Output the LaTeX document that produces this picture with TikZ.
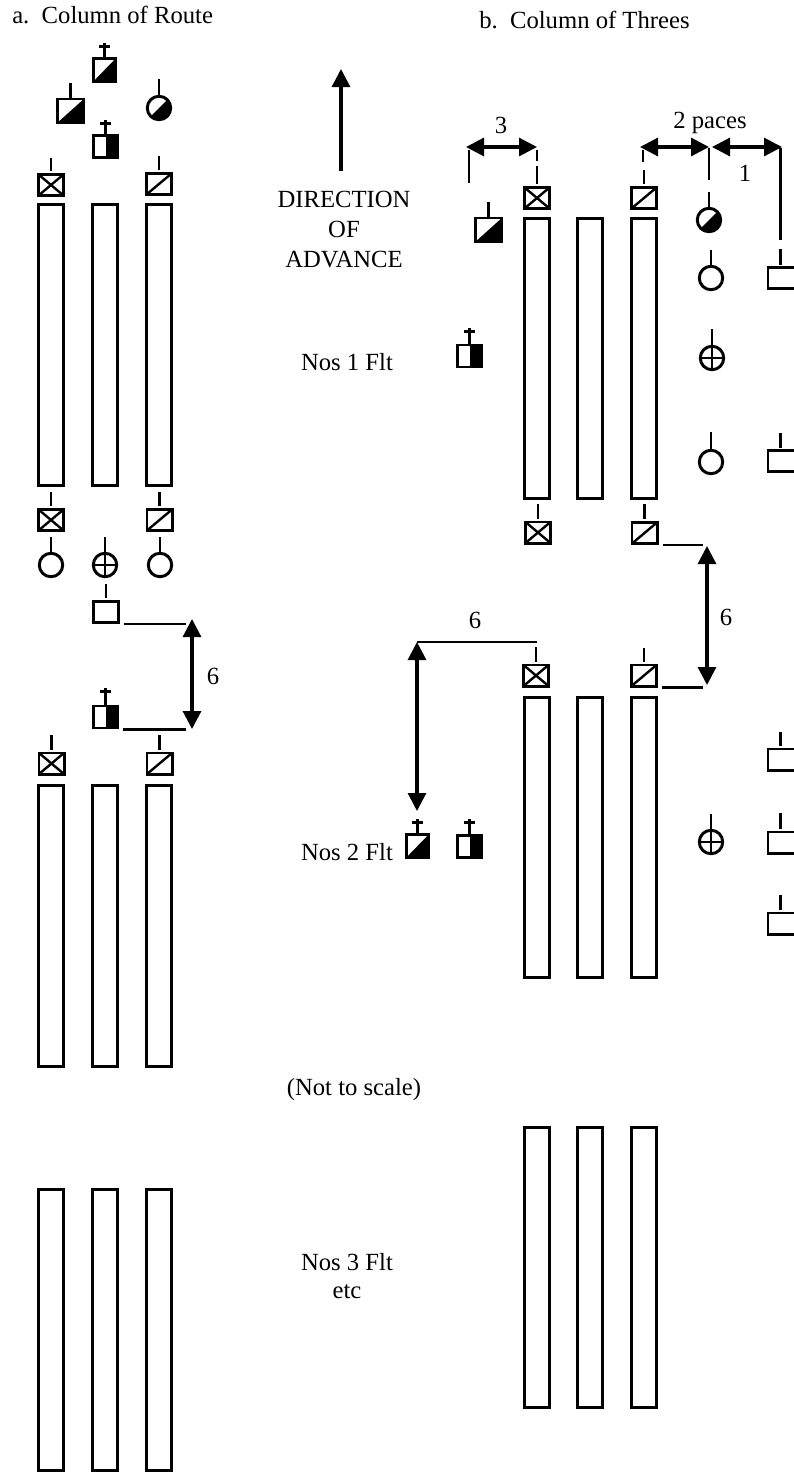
\documentclass[tikz,border=0pt]{standalone}
\usepackage{fontspec}
\setmainfont{Liberation Serif}
\usepackage{xcolor}
\usetikzlibrary{arrows.meta}
\begin{document}
\begin{tikzpicture}[
  x=0.75pt, y=-0.75pt,
  >={Triangle[length=13.5pt,width=13.5pt]},
  lab/.style={inner sep=0, font=\fontsize{18.5}{22}\selectfont, anchor=base},
  symb/.style={draw, line width=2.2pt, inner sep=0, fill=white},
  vehicle/.style={symb, minimum width=19pt, minimum height=210.5pt},
  plainbox/.style={symb, minimum width=18.8pt, minimum height=15.8pt},
  cutbox/.style={symb, minimum width=22.5pt, minimum height=15.8pt},
  xbox/.style={plainbox, path picture={
      \draw[line width=1.8pt] (path picture bounding box.south west) -- (path picture bounding box.north east)
        (path picture bounding box.north west) -- (path picture bounding box.south east);}},
  slashbox/.style={plainbox, path picture={
      \draw[line width=1.8pt] (path picture bounding box.south west) -- (path picture bounding box.north east);}},
  halfbox/.style={symb, minimum width=18pt, minimum height=16.5pt, path picture={
      \fill[black] (path picture bounding box.south) rectangle (path picture bounding box.north east);}},
  diagfill/.style={path picture={
      \fill[black] (path picture bounding box.south west) -- (path picture bounding box.north east)
        -- (path picture bounding box.south east) -- cycle;}},
  crossdiag/.style={symb, diagfill, minimum width=16.5pt, minimum height=17pt},
  bigdiag/.style={symb, diagfill, minimum width=20pt, minimum height=18pt},
  ring/.style={symb, circle, minimum size=17.6pt},
  halfring/.style={ring, diagfill},
  crossring/.style={ring, path picture={
      \draw[line width=1.6pt] (path picture bounding box.north) -- (path picture bounding box.south)
        (path picture bounding box.west) -- (path picture bounding box.east);}},
  stalk/.style={line width=2.2pt},
  thinline/.style={line width=1.7pt},
  dimarrow/.style={line width=2.3pt, <->},
]
\useasboundingbox (0,0) rectangle (793,1474);

\foreach \name/\x/\y in {av1/51/345, av2/105/345, av3/159/345,
                         av4/51/926, av5/105/926, av6/159/926,
                         av7/51/1330, av8/105/1330, av9/159/1330,
                         bv1/537/358.5, bv2/590/358.5, bv3/644/358.5,
                         bv4/537/837.5, bv5/590/837.5, bv6/644/837.5,
                         bv7/537/1267.5, bv8/590/1267.5, bv9/644/1267.5}
  \node[vehicle] (\name) at (\x,\y) {};

\foreach \name/\kind/\x/\y/\top in {ax1/xbox/51/185/158, as1/slashbox/159/184/156,
                                    ax2/xbox/51/520/492, as2/slashbox/159.5/520/492,
                                    ap1/plainbox/106/612/584,
                                    ax3/xbox/51.5/763.5/735, as3/slashbox/159.5/763.5/735,
                                    bx1/xbox/537/198/166, bs1/slashbox/644/198/170,
                                    bx2/xbox/538/532.5/504, bs2/slashbox/644.5/533/504,
                                    bx3/xbox/536/675.5/647, bs3/slashbox/644/675.5/648} {
  \node[\kind] (\name) at (\x,\y) {};
  \coordinate (\name top) at (\x,\top);
  \draw[stalk, shorten <=1.5pt] (\name.north) -- (\name top);
}

\foreach \name/\y/\top in {bp1/278/249, bp2/461/433, bp3/759.5/732, bp4/842.5/813, bp5/923.5/895} {
  \node[cutbox] (\name) at (783,\y) {};
  \coordinate (\name top) at (780.5,\top);
  \draw[stalk, shorten >=1pt] (\name top) -- (\name top |- \name.north);
}

\foreach \name/\kind/\x/\y/\top in {ad1/bigdiag/70.5/111/83, ar1/halfring/159/108/79,
                                    ar2/ring/51/565/537, ar3/crossring/105/565/537, ar4/ring/160/565/537,
                                    bd1/bigdiag/488.5/230/202, br1/halfring/709/220/192,
                                    br2/ring/711/278/250, br3/crossring/712/358/329,
                                    br4/ring/711/462/432, br5/crossring/711/842/814} {
  \node[\kind] (\name) at (\x,\y) {};
  \coordinate (\name top) at (\x,\top);
  \draw[stalk] (\name.north) -- (\name top);
}

\foreach \name/\kind/\x/\y/\top in {ac1/crossdiag/104.5/70/43, ah1/halfbox/105.5/146.5/120,
                                    ah2/halfbox/105.5/717/688, bh1/halfbox/469.5/356/328,
                                    bh2/halfbox/469.5/846.5/819, bc1/crossdiag/417.5/846/819} {
  \node[\kind] (\name) at (\x,\y) {};
  \coordinate (\name top) at (\x,\top);
  \coordinate (\name barl) at (\x-5.5,\top+3.5);
  \coordinate (\name barr) at (\x+5.5,\top+3.5);
  \draw[stalk] (\name.north) -- (\name top);
  \draw[stalk] (\name barl) -- (\name barr);
}

\coordinate (adv1) at (341,171);
\coordinate (adv2) at (341,69);
\draw[line width=2.3pt, ->] (adv1) -- (adv2);

\coordinate (a6t) at (192,619);
\coordinate (a6b) at (192,729);
\draw[dimarrow] (a6t) -- (a6b);
\draw[thinline, shorten <=3pt, shorten >=4.5pt] (ap1.south east) -- (ap1.south east -| a6t);
\draw[thinline, shorten <=3pt, shorten >=4.5pt] (ah2.south east) -- (ah2.south east -| a6b);

\coordinate (b6t) at (707,546);
\coordinate (b6b) at (707,685);
\draw[dimarrow] (b6t) -- (b6b);
\draw[thinline, shorten <=3pt, shorten >=3pt] (bs2.south east) -- (bs2.south east -| b6t);
\draw[thinline, shorten <=3pt, shorten >=3pt] (bs3.south east) -- (bs3.south east -| b6b);

\coordinate (c6t) at (417,642);
\coordinate (c6b) at (417,811);
\coordinate (c6r) at (537,642);
\draw[dimarrow] (c6t) -- (c6b);
\draw[thinline] (c6t) -- (c6r);

\coordinate (w3l) at (466,147);
\coordinate (w3r) at (537,147);
\coordinate (w2l) at (640,147);
\coordinate (w2r) at (709,147);
\coordinate (w1l) at (712,147);
\coordinate (w1r) at (782,147);
\draw[dimarrow] (w3l) -- (w3r);
\draw[dimarrow] (w2l) -- (w2r);
\draw[dimarrow] (w1l) -- (w1r);

\coordinate (t1a) at (469,150);
\coordinate (t1b) at (469,183);
\coordinate (t2a) at (537,150);
\coordinate (t2b) at (537,161);
\coordinate (t3a) at (643,150);
\coordinate (t3b) at (643,162);
\coordinate (t4a) at (709,148);
\coordinate (t4b) at (709,180);
\coordinate (t5a) at (780.5,148);
\coordinate (t5b) at (780.5,240);
\foreach \from/\to in {t1a/t1b, t2a/t2b, t3a/t3b, t4a/t4b, t5a/t5b}
  \draw[stalk] (\from) -- (\to);

\node[lab, anchor=base west] (tita) at (12,23) {a.\ \ Column of Route};
\node[lab, anchor=base west] (titb) at (479,28) {b.\ \ Column of Threes};
\node[lab] (dir1) at (344,207) {DIRECTION};
\node[lab] (dir2) at (344,237) {OF};
\node[lab] (dir3) at (344,267) {ADVANCE};
\node[lab] (flt1) at (347,370) {Nos 1 Flt};
\node[lab] (flt2) at (347,860) {Nos 2 Flt};
\node[lab] (flt3) at (347,1270) {Nos 3 Flt};
\node[lab] (etc) at (347,1298) {etc};
\node[lab] (scale) at (354,1095) {(Not to scale)};
\node[lab] (n3) at (501,133) {3};
\node[lab] (n2) at (710,128) {2 paces};
\node[lab] (n1) at (745,181) {1};
\node[lab] (a6) at (213,684) {6};
\node[lab] (b6) at (726,625) {6};
\node[lab] (c6) at (475,628) {6};
\end{tikzpicture}
\end{document}
